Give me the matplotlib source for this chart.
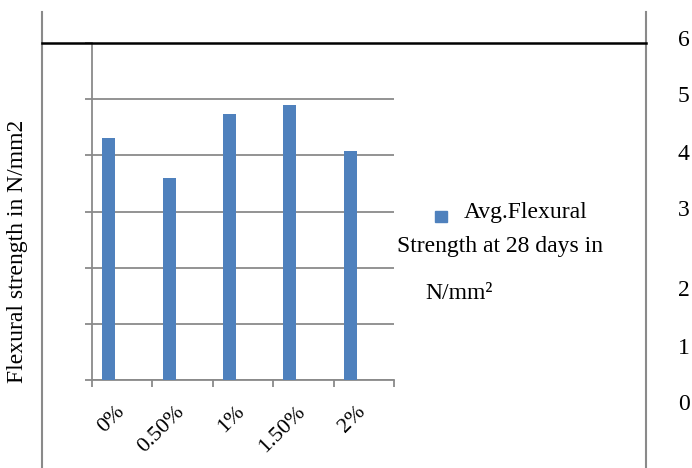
import matplotlib
matplotlib.use("Agg")
import matplotlib.pyplot as plt
import matplotlib.transforms as mtransforms
import numpy as np

categories = ["0%", "0.50%", "1%", "1.50%", "2%"]
values = [4.31, 3.59, 4.74, 4.89, 4.08]
right_labels = ["6", "5", "4", "3", "2", "1", "0"]
right_label_y = [41, 97, 155, 210, 291, 348, 405]  # pixel rows of the stray labels

W, H = 692, 468
DPI = 100
plt.rcParams['font.family'] = ['Liberation Serif', 'DejaVu Serif']

fig = plt.figure(figsize=(W / DPI, H / DPI), dpi=DPI)

def fx(px):
    return px / W

def fy(py):
    return 1 - py / H

BLUE = "#4F81BD"
GRAY = "#8A8A8A"

ax = fig.add_axes([fx(92), fy(380), (394 - 92) / W, (380 - 43) / H])
x = np.arange(len(categories))
ax.bar(x - 0.225, values, width=0.215, color=BLUE, zorder=3)
ax.set_xlim(-0.5, len(categories) - 0.5)
ax.set_ylim(0, 6)
ax.set_yticks(np.arange(0, 7, 1))
ax.set_yticklabels([])
ax.yaxis.grid(True, color=GRAY, linewidth=1.3)
ax.set_axisbelow(True)
for s in ["top", "right"]:
    ax.spines[s].set_visible(False)
for s in ["left", "bottom"]:
    ax.spines[s].set_color(GRAY)
    ax.spines[s].set_linewidth(1.3)
ax.tick_params(axis="y", which="major", length=5, width=1.3, color=GRAY, direction="out")

ax.set_xticks(x)
ax.set_xticklabels(categories, rotation=45, ha="right", va="top", fontsize=16)
ax.tick_params(axis="x", which="major", length=0, pad=16)
ax.set_xticks(np.arange(-0.5, len(categories), 1.0), minor=True)
ax.tick_params(axis="x", which="minor", length=5, width=1.3, color=GRAY, direction="out")
offset = mtransforms.ScaledTranslation(6 / DPI, 0, fig.dpi_scale_trans)
for lab in ax.get_xticklabels():
    lab.set_transform(lab.get_transform() + offset)

# y label
fig.text(fx(18), fy(251), "Flexural strength in N/mm2", rotation=90,
         ha="center", va="center", fontsize=17)

# frame lines
fig.add_artist(plt.Line2D([fx(42), fx(42)], [fy(12), fy(468)], color=GRAY, lw=1.5))
fig.add_artist(plt.Line2D([fx(646), fx(646)], [fy(12), fy(468)], color=GRAY, lw=1.5))
fig.add_artist(plt.Line2D([fx(42), fx(646)], [fy(43), fy(43)], color="black", lw=1.8))

# legend
fig.add_artist(plt.Rectangle((fx(435), fy(222)), 12 / W, 11 / H, color=BLUE,
                             transform=fig.transFigure))
fig.text(fx(464), fy(218), "Avg.Flexural", ha="left", va="baseline", fontsize=17)
fig.text(fx(397), fy(252), "Strength at 28 days in", ha="left", va="baseline", fontsize=17)
fig.text(fx(425), fy(299), "N/mm\u00b2", ha="left", va="baseline", fontsize=17)

for lab, py in zip(right_labels, right_label_y):
    fig.text(fx(678), fy(py), lab, ha="left", va="center", fontsize=17)

fig.savefig("out.png", dpi=DPI)
